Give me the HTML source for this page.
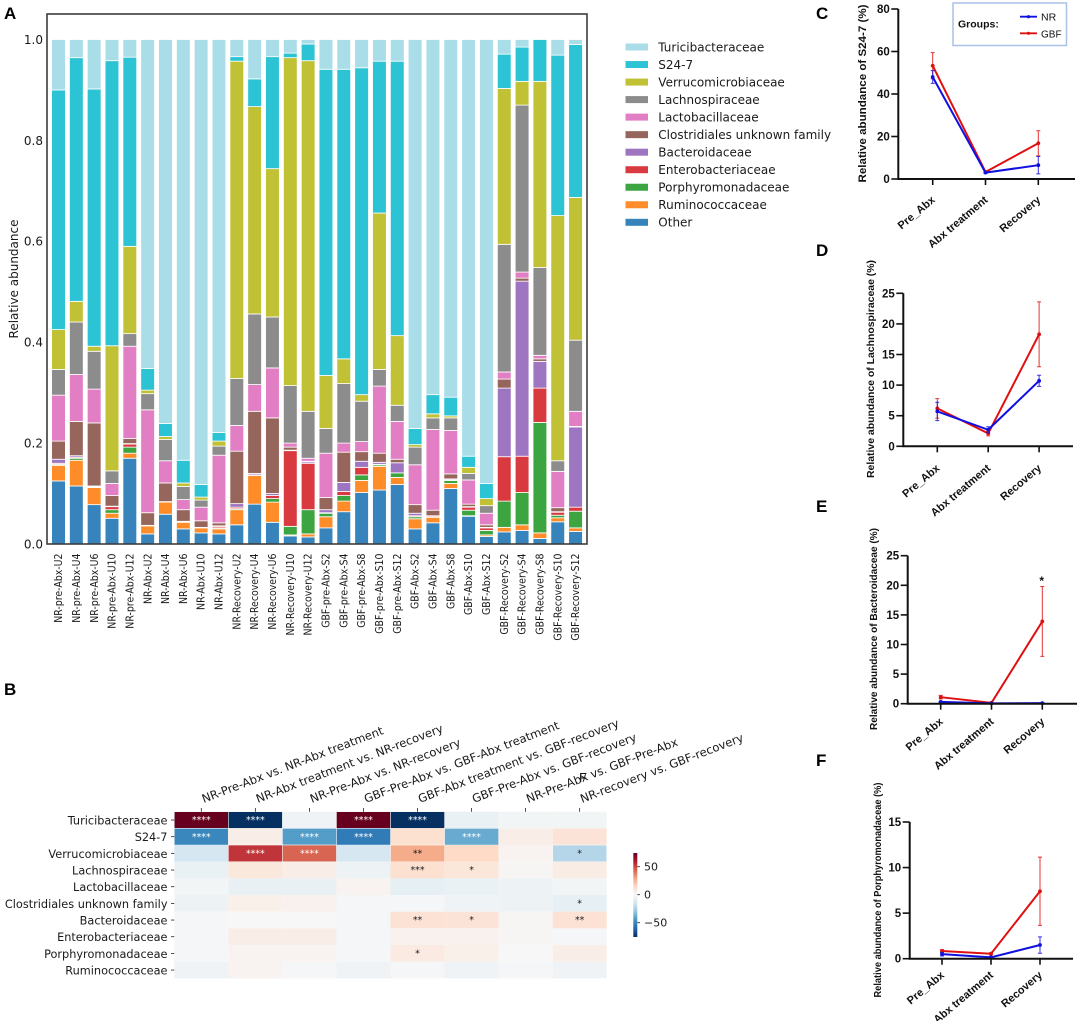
<!DOCTYPE html>
<html lang="en">
<head>
<meta charset="utf-8">
<title>Relative abundance of gut bacterial families</title>
<style>
  html, body { margin: 0; padding: 0; background: #fff; }
  body { width: 1084px; height: 1021px; overflow: hidden; }
  svg { display: block; }
  .djv { font-family: "DejaVu Sans", sans-serif; fill: #1a1a1a; }
  .lib { font-family: "Liberation Sans", sans-serif; fill: #111; }
  .letter { font-family: "Liberation Sans", sans-serif; font-weight: bold; font-size: 17px; fill: #000; }
</style>
</head>
<body>
<svg id="figure" xmlns="http://www.w3.org/2000/svg" width="1084" height="1021" viewBox="0 0 1084 1021">
  <rect x="0" y="0" width="1084" height="1021" fill="#fff"/>
  <text class="letter" x="4" y="19">A</text>
  <text class="letter" x="4" y="695">B</text>
  <text class="letter" x="816" y="19">C</text>
  <text class="letter" x="816" y="256">D</text>
  <text class="letter" x="816" y="512">E</text>
  <text class="letter" x="816" y="766">F</text>
  <text class="lib" x="579" y="782" font-size="13">F</text>
  <g id="panel-a"></g>
  <g id="legend-a"></g>
  <g id="panel-b"></g>
  <g id="panel-lines"></g>
  <g>
    <rect x="953" y="3" width="113.5" height="42.5" fill="#fff" stroke="#a8c2e6" stroke-width="1.5"/>
    <text class="lib" x="958" y="27.5" font-size="10.5" font-weight="bold">Groups:</text>
    <line x1="1020" y1="16.7" x2="1037" y2="16.7" stroke="#1010e0" stroke-width="1.8"/>
    <circle cx="1028.5" cy="16.7" r="1.6" fill="#1010e0"/>
    <text class="lib" x="1041" y="20.7" font-size="10.5">NR</text>
    <line x1="1020" y1="33.3" x2="1037" y2="33.3" stroke="#e01010" stroke-width="1.8"/>
    <circle cx="1028.5" cy="33.3" r="1.6" fill="#e01010"/>
    <text class="lib" x="1041" y="37.3" font-size="10">GBF</text>
  </g>
</svg>
<script>
/* ---------- Panel A data ---------- */
const sampleLabels = ['NR-pre-Abx-U2','NR-pre-Abx-U4','NR-pre-Abx-U6','NR-pre-Abx-U10','NR-pre-Abx-U12','NR-Abx-U2','NR-Abx-U4','NR-Abx-U6','NR-Abx-U10','NR-Abx-U12','NR-Recovery-U2','NR-Recovery-U4','NR-Recovery-U6','NR-Recovery-U10','NR-Recovery-U12','GBF-pre-Abx-S2','GBF-pre-Abx-S4','GBF-pre-Abx-S8','GBF-pre-Abx-S10','GBF-pre-Abx-S12','GBF-Abx-S2','GBF-Abx-S4','GBF-Abx-S8','GBF-Abx-S10','GBF-Abx-S12','GBF-Recovery-S2','GBF-Recovery-S4','GBF-Recovery-S8','GBF-Recovery-S10','GBF-Recovery-S12'];
const abundanceTicks = [0, 0.2, 0.4, 0.6, 0.8, 1.0];
const other = [.125,.115,.078,.051,.170,.020,.059,.030,.022,.020,.038,.079,.043,.016,.014,.032,.064,.102,.107,.118,.030,.042,.110,.055,.015,.024,.027,.011,.044,.025];
const ruminococcaceae = [.031,.051,.034,.010,.010,.016,.024,.013,.010,.010,.030,.057,.040,.002,.006,.022,.021,.024,.047,.014,.020,.011,.010,.001,.003,.009,.011,.011,.008,.007];
const porphyromonadaceae = [.002,.004,.001,.007,.012,0,0,0,0,.002,.002,0,.007,.017,.048,.007,.011,.011,.003,.009,.004,0,.006,.011,.009,.052,.064,.219,.005,.033];
const enterobacteriaceae = [.002,.002,.001,.006,.006,0,0,.001,.001,.003,.003,.001,.006,.150,.092,.001,.008,.015,.001,0,.002,.002,.001,.006,.005,.088,.072,.068,.006,.008];
const bacteroidaceae = [.008,.003,.001,.001,.001,.001,.001,.001,0,.001,.007,.003,.004,.001,.003,.006,.018,.012,.004,.020,.005,.001,.002,.001,.001,.136,.347,.053,.001,.159];
const clostridiales = [.036,.068,.125,.021,.010,.025,.037,.023,.013,.006,.104,.123,.150,.006,.001,.024,.060,.019,.018,.007,.017,.011,.010,.005,.005,.018,.006,.005,.008,.001];
const lactobacillaceae = [.091,.093,.067,.024,.183,.204,.044,.020,.027,.134,.051,.053,.099,.008,.006,.088,.018,.020,.133,.075,.079,.160,.086,.048,.023,.014,.012,.007,.072,.030];
const lachnospiraceae = [.051,.104,.075,.025,.025,.032,.042,.026,.014,.018,.093,.140,.101,.114,.093,.049,.118,.080,.033,.032,.035,.023,.025,.013,.015,.253,.331,.174,.021,.141];
const verrucomicrobiaceae = [.079,.041,.010,.248,.173,.007,.006,.007,.006,.010,.629,.411,.294,.650,.695,.105,.049,.013,.310,.138,.005,.008,.004,.012,.014,.309,.047,.369,.486,.283];
const s24_7 = [.475,.483,.510,.565,.375,.043,.026,.045,.025,.017,.009,.055,.222,.009,.033,.607,.574,.648,.301,.544,.032,.038,.037,.022,.030,.068,.068,.083,.318,.303];
const turicibacteraceae = [.100,.036,.098,.042,.035,.652,.761,.834,.882,.779,.034,.078,.034,.027,.009,.059,.059,.056,.043,.043,.771,.704,.709,.826,.880,.029,.015,0,.031,.010];

/* ---------- Panel B data ---------- */
const comparisons = ['NR-Pre-Abx vs. NR-Abx treatment','NR-Abx treatment vs. NR-recovery','NR-Pre-Abx vs. NR-recovery','GBF-Pre-Abx vs. GBF-Abx treatment','GBF-Abx treatment vs. GBF-recovery','GBF-Pre-Abx vs. GBF-recovery','NR-Pre-Abx vs. GBF-Pre-Abx','NR-recovery vs. GBF-recovery'];
const heatFamilies = ['Turicibacteraceae','S24-7','Verrucomicrobiaceae','Lachnospiraceae','Lactobacillaceae','Clostridiales unknown family','Bacteroidaceae','Enterobacteriaceae','Porphyromonadaceae','Ruminococcaceae'];
const colorbarTicks = [50, 0, -50];
const heatTuricibacteraceae = [75,-75,-3,75,-75,-5,-2,-2];
const heatS24 = [-49,5,-42,-53,12,-38,5,10];
const heatVerrucomicrobiaceae = [-13,54,44,-13,28,15,2,-22];
const heatLachnospiraceae = [-5,8,5,-4,12,9,1,6];
const heatLactobacillaceae = [-2,-6,-6,2,-7,-5,-4,-2];
const heatClostridiales = [-4,4,3,-1,-1,-3,-4,-7];
const heatBacteroidaceae = [-1,0,0,-1,11,10,1,11];
const heatEnterobacteriaceae = [-1,5,5,-1,3,3,1,-1];
const heatPorphyromonadaceae = [-1,2,2,-1,7,4,0,5];
const heatRuminococcaceae = [-3,2,-1,-3,-1,-3,-1,-3];
const starsTuricibacteraceae = ['****','****','','****','****','','',''];
const starsS24 = ['****','','****','****','','****','',''];
const starsVerrucomicrobiaceae = ['','****','****','','**','','','*'];
const starsLachnospiraceae = ['','','','','***','*','',''];
const starsLactobacillaceae = ['','','','','','','',''];
const starsClostridiales = ['','','','','','','','*'];
const starsBacteroidaceae = ['','','','','**','*','','**'];
const starsEnterobacteriaceae = ['','','','','','','',''];
const starsPorphyromonadaceae = ['','','','','*','','',''];
const starsRuminococcaceae = ['','','','','','','',''];

/* ---------- Panels C-F data ---------- */
const timepoints = ['Pre_Abx','Abx treatment','Recovery'];
const s247Ticks = [0,20,40,60,80];
const s247NrMean = [48,3,6.5];
const s247NrErr = [3,0.4,4.1];
const s247GbfMean = [53.3,3.3,16.8];
const s247GbfErr = [6.2,0.4,5.9];
const lachnoTicks = [0,5,10,15,20,25];
const lachnoNrMean = [5.7,2.7,10.7];
const lachnoNrErr = [1.5,0.5,0.9];
const lachnoGbfMean = [6.2,2.1,18.3];
const lachnoGbfErr = [1.6,0.4,5.3];
const bacteroTicks = [0,5,10,15,20,25];
const bacteroNrMean = [0.3,0.05,0.1];
const bacteroNrErr = [0.1,0.02,0.05];
const bacteroGbfMean = [1.1,0.15,13.9];
const bacteroGbfErr = [0.3,0.05,5.9];
const porphyroTicks = [0,5,10,15];
const porphyroNrMean = [0.5,0.15,1.5];
const porphyroNrErr = [0.2,0.1,0.9];
const porphyroGbfMean = [0.85,0.55,7.4];
const porphyroGbfErr = [0.15,0.1,3.75];

/* ---------- helpers ---------- */
const NS = 'http://www.w3.org/2000/svg';
function make(tag, attrs, parent, text) {
  const n = document.createElementNS(NS, tag);
  for (const k in attrs) n.setAttribute(k, attrs[k]);
  if (text !== undefined) n.textContent = text;
  parent.appendChild(n);
  return n;
}
function slug(s) { return s.toLowerCase().replace(/[^a-z0-9]+/g, '-').replace(/^-|-$/g, ''); }

/* ---------- Panel A ---------- */
const stackOrder = [
  { name: 'Other', values: other, color: '#3684bb' },
  { name: 'Ruminococcaceae', values: ruminococcaceae, color: '#fe8c28' },
  { name: 'Porphyromonadaceae', values: porphyromonadaceae, color: '#3da53f' },
  { name: 'Enterobacteriaceae', values: enterobacteriaceae, color: '#d93a3f' },
  { name: 'Bacteroidaceae', values: bacteroidaceae, color: '#9e75c0' },
  { name: 'Clostridiales unknown family', values: clostridiales, color: '#96655b' },
  { name: 'Lactobacillaceae', values: lactobacillaceae, color: '#e27fc4' },
  { name: 'Lachnospiraceae', values: lachnospiraceae, color: '#8c8c8c' },
  { name: 'Verrucomicrobiaceae', values: verrucomicrobiaceae, color: '#c1c135' },
  { name: 'S24-7', values: s24_7, color: '#2cc3d4' },
  { name: 'Turicibacteraceae', values: turicibacteraceae, color: '#a9dde8' }
];
function xA(i) { return 58.5 + i * 17.83; }
function yA(v) { return 544 - v * 504.5; }

function drawPanelA() {
  const g = document.getElementById('panel-a');
  sampleLabels.forEach(function (label, i) {
    let cum = 0;
    stackOrder.forEach(function (s) {
      const v = s.values[i];
      if (v > 0) {
        const seg = make('rect', { x: xA(i) - 6.9, y: yA(cum + v), width: 13.8, height: v * 504.5, fill: s.color, stroke: '#fff', 'stroke-width': 0.8 }, g);
        
        
      }
      cum += v;
    });
    const t = make('text', { class: 'djv', 'font-size': 11, 'text-anchor': 'end', transform: 'translate(' + (xA(i) + 3.6) + ',553.5) rotate(-90) scale(0.853,1)' }, g, label);
    
    
  });
  const frame = make('rect', { x: 47, y: 14, width: 540, height: 530, fill: 'none', stroke: '#3c3c3c', 'stroke-width': 1.6 }, g);
  
  
  abundanceTicks.forEach(function (v) {
    const t = make('text', { class: 'djv', x: 43, y: yA(v) + 4.4, 'font-size': 12, 'text-anchor': 'end' }, g, v.toFixed(1));
    
    
  });
  const title = make('text', { class: 'djv', 'font-size': 12, 'text-anchor': 'middle', transform: 'translate(18,279) rotate(-90)' }, g, 'Relative abundance');
  
  

  const lg = document.getElementById('legend-a');
  stackOrder.slice().reverse().forEach(function (s, i) {
    const cy = 47 + i * 17.53;
    const sw = make('rect', { x: 625.5, y: cy - 3.5, width: 22.5, height: 7, fill: s.color }, lg);
    
    
    const t = make('text', { class: 'djv', x: 658.3, y: cy + 4.3, 'font-size': 12 }, lg, s.name);
    
    
  });
}

/* ---------- Panel B ---------- */
const heatRows = [heatTuricibacteraceae, heatS24, heatVerrucomicrobiaceae, heatLachnospiraceae, heatLactobacillaceae, heatClostridiales, heatBacteroidaceae, heatEnterobacteriaceae, heatPorphyromonadaceae, heatRuminococcaceae];
const starRows = [starsTuricibacteraceae, starsS24, starsVerrucomicrobiaceae, starsLachnospiraceae, starsLactobacillaceae, starsClostridiales, starsBacteroidaceae, starsEnterobacteriaceae, starsPorphyromonadaceae, starsRuminococcaceae];
const rdBu = ['#053061','#2166ac','#4393c3','#92c5de','#d1e5f0','#f7f7f7','#fddbc7','#f4a582','#d6604d','#b2182b','#67001f'];
function hex(c) { return [1,3,5].map(function (k) { return parseInt(c.substr(k,2),16); }); }
function heatColor(v) {
  const p = Math.max(0, Math.min(1, (v + 75) / 150)) * 10;
  const a = Math.min(9, Math.floor(p));
  const f = p - a;
  const ca = hex(rdBu[a]), cb = hex(rdBu[a+1]);
  return 'rgb(' + ca.map(function (x, k) { return Math.round(x + (cb[k]-x)*f); }).join(',') + ')';
}
function xB(c) { return 174.3 + c * 54.05; }
function yB(r) { return 811.7 + r * 16.67; }

function drawPanelB() {
  const g = document.getElementById('panel-b');
  heatRows.forEach(function (row, r) {
    row.forEach(function (v, c) {
      const cell = make('rect', { x: xB(c), y: yB(r), width: 54.05, height: 16.67, fill: heatColor(v), stroke: '#fff', 'stroke-width': Math.abs(v) > 20 ? 0.5 : 0 }, g);
      
      
      const star = starRows[r][c];
      if (star) {
        const t = make('text', { x: xB(c) + 27, y: yB(r) + 11.4, 'font-size': 9.4, 'text-anchor': 'middle', 'font-family': '"DejaVu Sans", sans-serif', fill: Math.abs(v) > 35 ? '#fff' : '#1a1a1a' }, g, star);
        
        
      }
    });
  });
  heatFamilies.forEach(function (name, r) {
    const y = yB(r) + 8.33;
    const tick = make('line', { x1: 171, x2: 174.3, y1: y, y2: y, stroke: '#222', 'stroke-width': 0.8 }, g);
    
    
    const t = make('text', { class: 'djv', x: 167.5, y: y + 4.4, 'font-size': 11.3, 'text-anchor': 'end' }, g, name);
    
    
  });
  comparisons.forEach(function (name, c) {
    const x = xB(c) + 27;
    const tick = make('line', { x1: x, x2: x, y1: 808, y2: 811.7, stroke: '#222', 'stroke-width': 0.8 }, g);
    
    
    const t = make('text', { class: 'djv', 'font-size': 11.6, transform: 'translate(' + (x + 2.5) + ',803) rotate(-21)' }, g, name);
    
    
  });
  const defs = make('defs', {}, g);
  const grad = make('linearGradient', { id: 'colorbar-gradient', x1: 0, y1: 1, x2: 0, y2: 0 }, defs);
  rdBu.forEach(function (col, i) {
    make('stop', { offset: (i * 10) + '%', 'stop-color': col }, grad);
  });
  const bar = make('rect', { x: 633.3, y: 853, width: 4, height: 84, fill: 'url(#colorbar-gradient)' }, g);
  
  
  colorbarTicks.forEach(function (v) {
    const y = 894.7 - v * 0.56;
    const tick = make('line', { x1: 637.3, x2: 640, y1: y, y2: y, stroke: '#222', 'stroke-width': 0.8 }, g);
    
    
    const t = make('text', { class: 'djv', x: 644, y: y + 4, 'font-size': 11 }, g, String(v).replace('-', '\u2212'));
    
    
  });
}

/* ---------- Panels C-F ---------- */
function drawLinePanel(key, title, ticks, series, box) {
  const g = make('g', {}, document.getElementById('panel-lines'));
  
  
  const top = ticks[ticks.length - 1];
  const y = function (v) { return box.y0 - v / top * (box.y0 - box.yTop); };
  const x = function (i) { return box.x0 + i * box.dx; };

  series.forEach(function (s) {
    const pts = s.mean.map(function (m, i) { return x(i) + ',' + y(m); }).join(' ');
    s.mean.forEach(function (m, i) {
      const e = s.err[i];
      const d = 'M' + x(i) + ' ' + y(m - e) + 'V' + y(m + e) + 'M' + (x(i) - 2) + ' ' + y(m + e) + 'h4M' + (x(i) - 2) + ' ' + y(m - e) + 'h4';
      const err = make('path', { d: d, stroke: s.color, 'stroke-width': 1, fill: 'none', opacity: 0.85 }, g);
      
      
    });
    const line = make('polyline', { points: pts, fill: 'none', stroke: s.color, 'stroke-width': 2 }, g);
    
    
    s.mean.forEach(function (m, i) {
      const dot = make('circle', { cx: x(i), cy: y(m), r: 1.9, fill: s.color }, g);
      
      
    });
  });

  const axis = make('path', { d: 'M' + box.axisX + ' ' + box.yTop + 'V' + box.y0 + 'H' + box.xEnd, fill: 'none', stroke: '#111', 'stroke-width': 2 }, g);
  
  
  ticks.forEach(function (v) {
    const tk = make('line', { x1: box.axisX - 7, x2: box.axisX, y1: y(v), y2: y(v), stroke: '#111', 'stroke-width': 1.6 }, g);
    
    
    const t = make('text', { class: 'lib', x: box.axisX - 8.5, y: y(v) + 4, 'font-size': 11.5, 'font-weight': 'bold', 'text-anchor': 'end' }, g, v);
    
    
  });
  timepoints.forEach(function (name, i) {
    const tk = make('line', { x1: x(i), x2: x(i), y1: box.y0, y2: box.y0 + 6, stroke: '#111', 'stroke-width': 1.6 }, g);
    
    
    const t = make('text', { class: 'lib', 'font-size': 11, 'font-weight': 'bold', 'text-anchor': 'end', transform: 'translate(' + (x(i) + 3) + ',' + (box.y0 + box.labelDy) + ') rotate(-40)' }, g, name);
    
    
  });
  const yt = make('text', { class: 'lib', 'font-size': box.titleSize, 'font-weight': 'bold', 'text-anchor': 'middle', textLength: box.titleLen, lengthAdjust: 'spacingAndGlyphs', transform: 'translate(' + box.titleX + ',' + box.titleY + ') rotate(-90)' }, g, title);
  
  
}

drawPanelA();
drawPanelB();
drawLinePanel('s24-7', 'Relative abundance of S24-7 (%)', s247Ticks,
  [{ name: 'gbf', color: '#e01010', mean: s247GbfMean, err: s247GbfErr }, { name: 'nr', color: '#1010e0', mean: s247NrMean, err: s247NrErr }],
  { axisX: 898.3, xEnd: 1075, y0: 179, yTop: 9, x0: 932.7, dx: 52.8, titleX: 866, titleY: 93.5, titleLen: 178, titleSize: 11, labelDy: 22 });
drawLinePanel('lachnospiraceae', 'Relative abundance of Lachnospiraceae (%)', lachnoTicks,
  [{ name: 'gbf', color: '#e01010', mean: lachnoGbfMean, err: lachnoGbfErr }, { name: 'nr', color: '#1010e0', mean: lachnoNrMean, err: lachnoNrErr }],
  { axisX: 903.3, xEnd: 1073, y0: 446.3, yTop: 293.3, x0: 937.3, dx: 50.9, titleX: 874, titleY: 369, titleLen: 218, titleSize: 10.5, labelDy: 23 });
drawLinePanel('bacteroidaceae', 'Relative abundance of Bacteroidaceae (%)', bacteroTicks,
  [{ name: 'gbf', color: '#e01010', mean: bacteroGbfMean, err: bacteroGbfErr }, { name: 'nr', color: '#1010e0', mean: bacteroNrMean, err: bacteroNrErr }],
  { axisX: 907.7, xEnd: 1077, y0: 703.7, yTop: 555.7, x0: 940.7, dx: 50.8, titleX: 877, titleY: 629, titleLen: 202, titleSize: 10.5, labelDy: 19 });
drawLinePanel('porphyromonadaceae', 'Relative abundance of Porphyromonadaceae (%)', porphyroTicks,
  [{ name: 'gbf', color: '#e01010', mean: porphyroGbfMean, err: porphyroGbfErr }, { name: 'nr', color: '#1010e0', mean: porphyroNrMean, err: porphyroNrErr }],
  { axisX: 909.7, xEnd: 1073, y0: 958.7, yTop: 822, x0: 942, dx: 49, titleX: 881, titleY: 890, titleLen: 215, titleSize: 10.5, labelDy: 17.5 });

const recoveryStar = make('text', { class: 'lib', x: 1041.7, y: 585, 'font-size': 12, 'font-weight': 'bold', 'text-anchor': 'middle' }, document.getElementById('panel-lines'), '*');


</script>
</body>
</html>
